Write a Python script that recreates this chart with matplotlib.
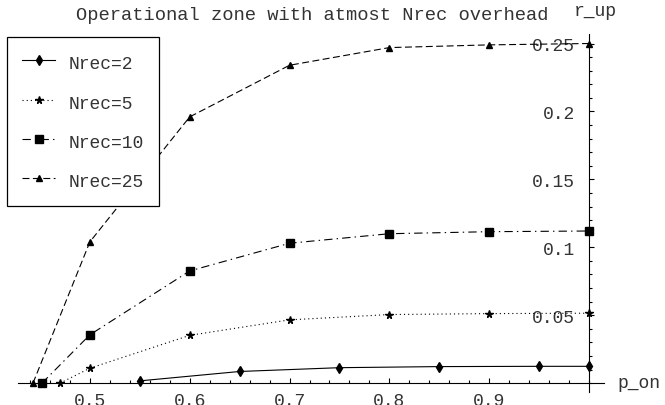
import matplotlib
matplotlib.use('Agg')
import matplotlib.pyplot as plt
from matplotlib.ticker import MultipleLocator

plt.rcParams['font.family'] = ['Liberation Mono', 'DejaVu Sans Mono']
plt.rcParams['lines.scale_dashes'] = False

# data
p_on_2 = [0.55, 0.65, 0.75, 0.85, 0.95, 1.0]
r_up_2 = [0.0017, 0.0086, 0.0114, 0.0122, 0.0124, 0.0124]

p_on_5 = [0.47, 0.5, 0.6, 0.7, 0.8, 0.9, 1.0]
r_up_5 = [0.0, 0.011, 0.0352, 0.0466, 0.0505, 0.0512, 0.0515]

p_on_10 = [0.452, 0.5, 0.6, 0.7, 0.8, 0.9, 1.0]
r_up_10 = [0.0, 0.0356, 0.0826, 0.103, 0.110, 0.1115, 0.112]

p_on_25 = [0.443, 0.5, 0.6, 0.7, 0.8, 0.9, 1.0]
r_up_25 = [0.0, 0.104, 0.196, 0.234, 0.247, 0.249, 0.25]

xticks = [0.5, 0.6, 0.7, 0.8, 0.9]
xlabels = ['0.5', '0.6', '0.7', '0.8', '0.9']
yticks = [0.05, 0.1, 0.15, 0.2, 0.25]
ylabels = ['0.05', '0.1', '0.15', '0.2', '0.25']

txt = '#333333'
W, H = 665, 406

fig = plt.figure(figsize=(6.65, 4.06), dpi=100)
ax = fig.add_axes([18 / W, 13 / H, 586 / W, 358 / H])

ax.plot(p_on_2, r_up_2, color='black', lw=0.8, ls='-', marker='d',
        ms=5, label='Nrec=2', clip_on=False)
ax.plot(p_on_5, r_up_5, color='black', lw=0.8, ls=(0, (0.8, 2.2)), marker='*',
        ms=5.5, label='Nrec=5', clip_on=False)
ax.plot(p_on_10, r_up_10, color='black', lw=0.8, ls=(0, (6, 3, 1, 3)), marker='s',
        ms=5.5, label='Nrec=10', clip_on=False)
ax.plot(p_on_25, r_up_25, color='black', lw=0.8, ls=(0, (5, 2.5)), marker='^',
        ms=4, label='Nrec=25', clip_on=False)

ax.set_xlim(0.428, 1.015)
ax.set_ylim(-0.0065, 0.257)

for s in ['top', 'right']:
    ax.spines[s].set_visible(False)
ax.spines['left'].set_position(('data', 1.0))
ax.spines['bottom'].set_position(('data', 0.0))
for s in ['left', 'bottom']:
    ax.spines[s].set_linewidth(0.8)
ax.patch.set_visible(False)

ax.set_xticks(xticks)
ax.set_xticklabels(xlabels)
ax.set_yticks(yticks)
ax.set_yticklabels(ylabels)
ax.xaxis.set_minor_locator(MultipleLocator(0.02))
ax.yaxis.set_minor_locator(MultipleLocator(0.01))
ax.tick_params(which='both', direction='in', width=0.8, colors='black',
               labelcolor=txt, labelsize=13)
ax.tick_params(which='major', length=3.5)
ax.tick_params(which='minor', length=2)
ax.tick_params(axis='y', pad=10)
ax.tick_params(axis='x', pad=6)

fig.text(312 / W, 1 - 16 / H, 'Operational zone with atmost Nrec overhead',
         ha='center', va='center', fontsize=13.5, color=txt)
fig.text(595 / W, 1 - 11 / H, 'r_up', ha='center', va='center',
         fontsize=13, color=txt)
fig.text(617 / W, 1 - 384 / H, 'p_on', ha='left', va='center',
         fontsize=13, color=txt)

leg = ax.legend(loc='upper left', bbox_to_anchor=(7 / W, 1 - 38 / H),
                bbox_transform=fig.transFigure, borderaxespad=0,
                fontsize=13, frameon=True, fancybox=False, framealpha=1,
                edgecolor='black', handlelength=1.8, handletextpad=0.75,
                handleheight=1.3, borderpad=0.85, labelspacing=1.08)
leg.get_frame().set_linewidth(0.9)
for t in leg.get_texts():
    t.set_color(txt)
leg.set_zorder(5)

fig.savefig('out.png', dpi=100)
